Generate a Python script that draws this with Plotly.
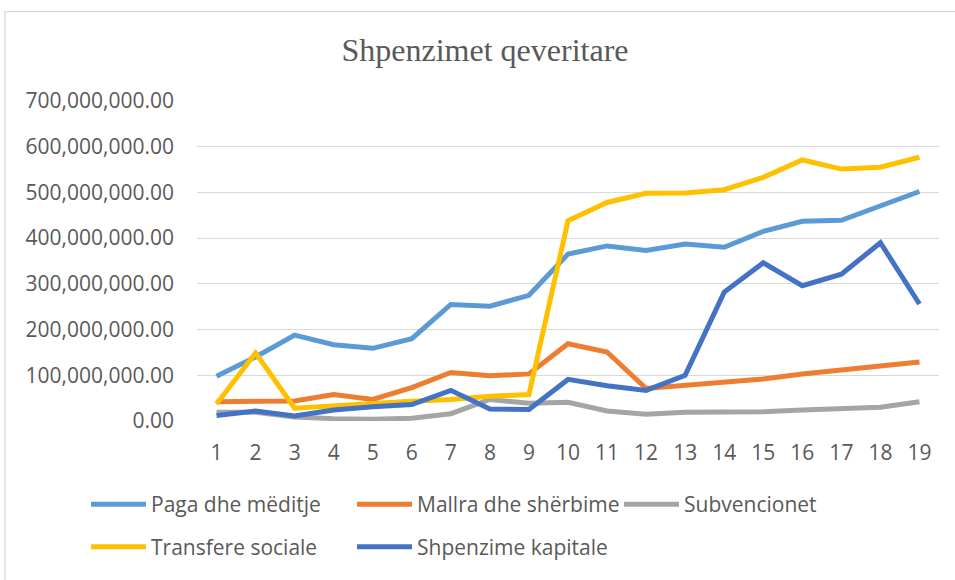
import plotly.graph_objects as go

UNIT = 1_000_000

periods = [str(i) for i in range(1, 20)]

paga = [98, 140, 188, 167, 159, 180, 255, 251, 275, 365, 383, 373, 387, 380, 415, 437, 439, 471, 502]
mallra = [42, 44, 44, 58, 47, 73, 106, 99, 103, 169, 151, 71, 78, 83, 92, 103, 112, 121, 129]
subvencionet = [19, 19, 9, 5, 4, 6, 16, 47, 39, 41, 22, 15, 19, 20, 20, 24, 26, 30, 42]
transfere = [37, 149, 28, 33, 40, 43, 47, 54, 58, 438, 478, 498, 499, 506, 533, 571, 551, 555, 577]
kapitale = [12, 22, 11, 24, 31, 36, 67, 26, 25, 91, 77, 67, 100, 282, 346, 296, 321, 390, 256]

series_names = ["Paga dhe mëditje", "Mallra dhe shërbime", "Subvencionet",
                "Transfere sociale", "Shpenzime kapitale"]
series_values = [paga, mallra, subvencionet, transfere, kapitale]
series_colors = ["#5B9BD5", "#ED7D31", "#A5A5A5", "#FFC000", "#4472C4"]

TXT = "#595959"
FONT = "Open Sans"

W, H = 955, 580
L, R, T, B = 197, 16, 101, 157
pw = W - L - R
ph = H - T - B

def px_x(p):
    return (p - L) / pw

def px_y(p):
    return (H - B - p) / ph

# legend entry placement (sample start x, row centre y), in pixels
legend_slots = [(92, 507), (358, 507), (625, 507), (92, 550), (358, 550)]
legend_ids = ["legend", "legend2", "legend3", "legend4", "legend5"]

fig = go.Figure()
for name, vals, color, lid in zip(series_names, series_values, series_colors, legend_ids):
    fig.add_trace(go.Scatter(
        x=periods, y=[v * UNIT for v in vals], name=name, mode="lines",
        line=dict(color=color, width=5), legend=lid,
    ))

legend_common = dict(
    orientation="h", xanchor="left", yanchor="middle",
    font=dict(family=FONT, size=21, color=TXT),
    bgcolor="rgba(0,0,0,0)", itemwidth=55,
    itemclick=False, itemdoubleclick=False,
)
legends = {}
for lid, (sx, sy) in zip(legend_ids, legend_slots):
    legends[lid] = dict(x=px_x(sx - 6), y=px_y(sy), **legend_common)

fig.update_layout(
    width=W, height=H,
    margin=dict(l=L, r=R, t=T, b=B),
    paper_bgcolor="white", plot_bgcolor="white",
    title=dict(text="Shpenzimet qeveritare", x=px_x(485), xref="paper", xanchor="center",
               y=1 - 50 / H, yanchor="middle",
               font=dict(family="Liberation Serif", size=32, color=TXT)),
    showlegend=True,
    xaxis=dict(type="category", range=[-0.5, len(periods) - 0.5],
               showgrid=False, zeroline=False, showline=False,
               ticks="", tickfont=dict(family=FONT, size=21, color=TXT),
               ticklabelstandoff=17),
    yaxis=dict(range=[0, 700 * UNIT], dtick=100 * UNIT, tickformat=",.2f",
               showgrid=True, gridcolor="#D9D9D9", gridwidth=1.3,
               zeroline=False, showline=False, ticks="",
               tickfont=dict(family=FONT, size=21, color=TXT),
               ticklabelstandoff=22),
    shapes=[dict(type="rect", xref="paper", yref="paper",
                 x0=px_x(5), x1=px_x(970), y0=px_y(600), y1=px_y(11),
                 line=dict(color="#D9D9D9", width=1.3), fillcolor="rgba(0,0,0,0)",
                 layer="below")],
    **legends,
)

fig.write_html("out.html", config={"displayModeBar": False},
               post_script="document.body.style.margin='0';")
